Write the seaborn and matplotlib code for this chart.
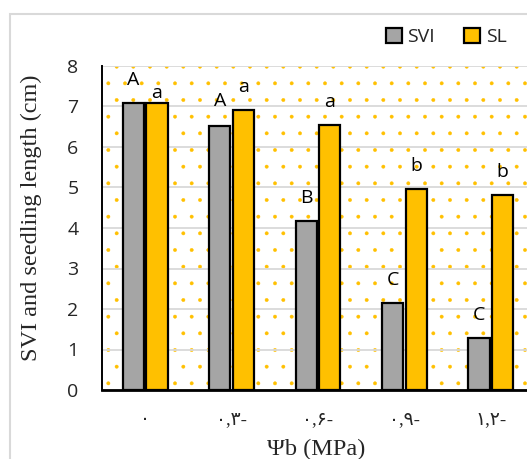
import matplotlib
matplotlib.use('Agg')
import matplotlib.pyplot as plt
import seaborn as sns
import pandas as pd
from matplotlib.patches import Rectangle

# ---- data ----
categories = ['۰', '۰,۳-', '۰,۶-', '۰,۹-', '۱,۲-']
series = ['SVI', 'SL']
svi = [7.08, 6.53, 4.18, 2.14, 1.29]
sl = [7.08, 6.91, 6.55, 4.97, 4.81]
svi_letters = ['A', 'A', 'B', 'C', 'C']
sl_letters = ['a', 'a', 'a', 'b', 'b']
y_ticks = [0, 1, 2, 3, 4, 5, 6, 7, 8]

df = pd.DataFrame({
    'cat': categories * 2,
    'value': svi + sl,
    'series': [series[0]] * len(svi) + [series[1]] * len(sl),
})

# ---- style ----
sns.set_theme(style='white')
plt.rcParams['hatch.color'] = '#FFC000'
plt.rcParams['hatch.linewidth'] = 0.3
colors = ['#A5A5A5', '#FFC000']
sans = ['Open Sans', 'DejaVu Sans']
serif = ['Liberation Serif', 'DejaVu Sans']
# offsets (points) of the significance letters above bars
svi_pad = [13, 14, 13, 13, 13]
sl_pad = [4, 13, 13, 12.5, 13]

fig = plt.figure(figsize=(5.27, 4.59), dpi=100)
ax = fig.add_axes([102 / 527, 1 - 390 / 459, 432 / 527, 324 / 459])

# dotted background
ax.add_patch(Rectangle((0, 0), 1, 1, transform=ax.transAxes, facecolor='white',
                       edgecolor='#FFC000', linewidth=0, hatch='.', zorder=0))

sns.barplot(data=df, x='cat', y='value', hue='series', order=categories,
            hue_order=series, palette=colors, saturation=1, width=0.545, gap=0.1,
            edgecolor='black', linewidth=1.6, ax=ax, zorder=3)

ax.set_axisbelow(True)
ax.set_ylim(0, 8)
ax.set_xlim(-0.5, len(categories) - 0.5)
ax.set_yticks(y_ticks)
ax.yaxis.grid(True, color='#D9D9D9', linewidth=1.3, zorder=1)
ax.xaxis.grid(False)
for s in ['top', 'right']:
    ax.spines[s].set_visible(False)
ax.spines['left'].set_color('black')
ax.spines['left'].set_linewidth(1.4)
ax.spines['bottom'].set_color('black')
ax.spines['bottom'].set_linewidth(2)
ax.spines['bottom'].set_zorder(5)

ax.tick_params(axis='y', length=0, pad=17, labelsize=14)
ax.tick_params(axis='x', length=0, pad=15, labelsize=13.5)
for t in ax.get_yticklabels():
    t.set_family(sans)
for t in ax.get_xticklabels():
    t.set_family(serif)

ax.set_xlabel('Ψb (MPa)', family=serif, fontsize=17.5)
ax.set_ylabel('SVI and seedling length (cm)', family=serif, fontsize=17.5)
ax.xaxis.set_label_coords((316 - 102) / 432, -(439 - 390) / 324)
ax.yaxis.set_label_coords((42 - 102) / 432, (390 - 218) / 324)

# significance letters
for cont, letters, pads in zip(ax.containers, [svi_letters, sl_letters], [svi_pad, sl_pad]):
    for bar, lab, p in zip(cont.patches, letters, pads):
        ax.annotate(lab, (bar.get_x() + bar.get_width() / 2, bar.get_height()),
                    xytext=(0, p), textcoords='offset points', ha='center',
                    va='baseline', fontsize=14, family=sans, color='black')

# legend
handles, labels = ax.get_legend_handles_labels()
ax.get_legend().remove()
fig.legend(handles, labels, loc='center left', bbox_to_anchor=(386 / 527, 1 - 37 / 459),
           ncol=2, frameon=False, prop={'family': sans, 'size': 14},
           handlelength=0.8, handleheight=0.8, handletextpad=0.3,
           columnspacing=1.5, borderaxespad=0, borderpad=0)

# chart-area border
fig.add_artist(Rectangle((10 / 527, -0.2), 2, 1.2 - 14 / 459, transform=fig.transFigure,
                         facecolor='none', edgecolor='#D9D9D9', linewidth=1.5))

fig.savefig('out.png', dpi=100)
